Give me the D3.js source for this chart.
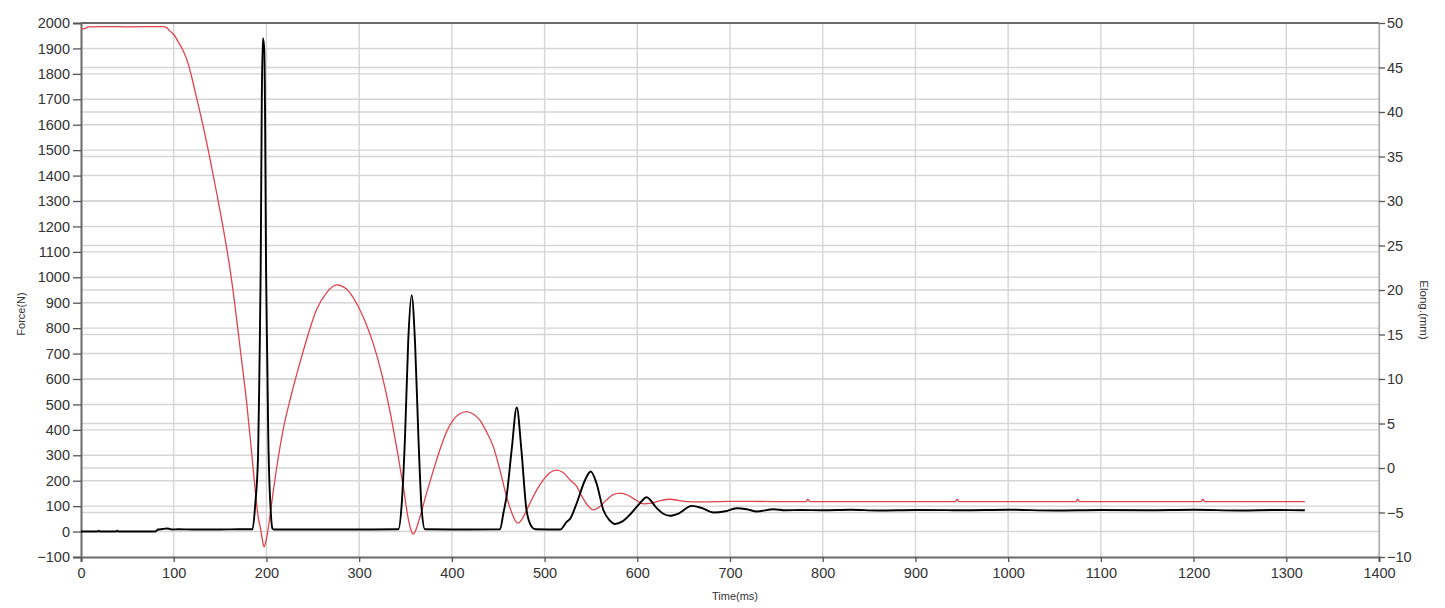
<!DOCTYPE html>
<html><head><meta charset="utf-8">
<script src="https://cdn.jsdelivr.net/npm/d3@7"></script>
<style>
html,body{margin:0;padding:0;background:#fff;}
svg text{font-family:"Liberation Sans",Arial,sans-serif;}
</style></head>
<body><svg id="c" width="1445" height="608"></svg>
<script>
// ---- data ----
const timeTicks = [0,100,200,300,400,500,600,700,800,900,1000,1100,1200,1300,1400];
const forceTicks = [-100,0,100,200,300,400,500,600,700,800,900,1000,1100,1200,1300,1400,1500,1600,1700,1800,1900,2000];
const elongTicks = [-10,-5,0,5,10,15,20,25,30,35,40,45,50];

// Force (N) vs time (ms), black curve, left axis
const forceTime = [0,18,19,20,38,39,40,60,80,83,88,92,95,98,105,120,150,170,185,188,191,192.5,193.8,195,196.2,197.6,198.5,199.6,201,202,204.6,206.5,208,250,300,342.3,346,349.5,353,356.6,360.3,363.9,367.5,371,400,452,455.6,459,464.5,470,475,480.5,485.9,490,516.7,524,527.5,534.7,543.7,549.8,556,563.4,570,576,584,592,603,610,621,628,635.4,645,658.7,670,682,695,707,718,729,747,760,776,800,830,860,900,950,1000,1050,1100,1150,1200,1250,1290,1320];
const forceVal  = [0,0,3,0,0,3,0,0,0,8,10,12,11,8,9,8,8,9,9,110,300,650,1030,1700,1940,1900,1660,1030,650,374,85,12,8,8,8,9,113,374,754,930,742,374,85,9,8,9,73,138,321,488,321,85,20,9,8,39,50,112,203,236,190,85,45,30,40,66,112,135,92,70,62,72,101,92,75,80,92,88,79,88,84,85,84,86,83,85,84,86,83,85,84,86,83,85,84,86];

// Elongation (mm) vs time (ms), red curve, right axis
const elongTime = [0,4,8,30,50,88,92,96,100,105,110,116,121,127,132,140,148,155,160,165,171.5,178.7,183,187.7,191,194,196,197.5,199,201,203,205.7,211,218,227,236,245,254,265,276,286,297,306,315,324,333,341,347.6,353,356,358.5,361,365,372.8,380,387,394,401.5,408,416,423,430,437,444.7,452,459,465,469,471.7,475,480,484.4,491,498.7,506,513,520,527.5,534.7,540,546,552.6,560,567,574,581.4,590,598,606.6,615,625,635.4,645,653,670,700,750,782,784,786,943,945,947,1073,1075,1077,1208,1210,1212,1320];
const elongVal  = [49.34,49.37,49.57,49.6,49.57,49.6,49.51,49.09,48.71,47.86,46.94,45.29,43.23,40.57,38.29,34.29,30.0,26.0,22.86,19.14,13.6,7.31,2.86,-2.29,-5.43,-7.0,-8.29,-8.86,-8.43,-7.43,-6.0,-3.91,0,4.29,8.29,11.77,15.0,17.77,19.71,20.57,20.14,18.54,16.57,14.06,10.71,6.51,2.0,-2.09,-5.71,-7.0,-7.43,-7.0,-5.71,-2.8,-0.29,2.03,4.0,5.4,6.06,6.34,6.06,5.4,4.14,2.4,-0.29,-3.2,-5.14,-6.0,-6.2,-5.86,-4.86,-3.94,-2.57,-1.34,-0.51,-0.23,-0.51,-1.34,-2.09,-3.14,-4.14,-4.71,-4.29,-3.57,-3.0,-2.83,-3.06,-3.57,-4.03,-3.94,-3.66,-3.51,-3.66,-3.77,-3.8,-3.74,-3.77,-3.77,-3.5,-3.77,-3.77,-3.5,-3.77,-3.77,-3.5,-3.77,-3.77,-3.5,-3.77,-3.77];

// ---- chart ----
const svg = d3.select("#c");
const L = 81, R = 1379, T = 23, B = 557;
const x = d3.scaleLinear().domain([0,1400]).range([L,R]);
const yF = d3.scaleLinear().domain([-100,2000]).range([B,T]);
const yE = d3.scaleLinear().domain([-10,50]).range([B,T]);

const grid = svg.append("g").attr("stroke","#d5d5d5").attr("stroke-width",1.4);
timeTicks.slice(1,-1).forEach(t=>grid.append("line").attr("x1",x(t)).attr("x2",x(t)).attr("y1",T).attr("y2",B));
forceTicks.slice(1,-1).forEach(v=>grid.append("line").attr("x1",L).attr("x2",R).attr("y1",yF(v)).attr("y2",yF(v)));
elongTicks.slice(1,-1).forEach(v=>grid.append("line").attr("x1",L).attr("x2",R).attr("y1",yE(v)).attr("y2",yE(v)));

// frame
svg.append("line").attr("x1",L).attr("x2",R).attr("y1",T).attr("y2",T).attr("stroke","#6a6a6a").attr("stroke-width",2);
svg.append("line").attr("x1",R).attr("x2",R).attr("y1",T).attr("y2",B).attr("stroke","#b0b0b0").attr("stroke-width",1.2);

const fontSize = "14.5px";
const axL = svg.append("g").attr("transform",`translate(${L},0)`)
  .call(d3.axisLeft(yF).tickValues(forceTicks).tickSize(8).tickPadding(3).tickFormat(d3.format("d")));
const axR = svg.append("g").attr("transform",`translate(${R},0)`)
  .call(d3.axisRight(yE).tickValues(elongTicks).tickSize(6).tickPadding(2).tickFormat(d3.format("d")));
const axB = svg.append("g").attr("transform",`translate(0,${B})`)
  .call(d3.axisBottom(x).tickValues(timeTicks).tickSize(5).tickPadding(6).tickFormat(d3.format("d")));

[axL,axB].forEach(a=>{
  a.select(".domain").attr("stroke","#6a6a6a").attr("stroke-width",2);
  a.selectAll(".tick line").attr("stroke","#555").attr("stroke-width",1.3);
});
axR.select(".domain").attr("stroke","#b0b0b0").attr("stroke-width",1.2);
axR.selectAll(".tick line").attr("stroke","#555").attr("stroke-width",1.3);
[axL,axR,axB].forEach(a=>a.selectAll("text").attr("font-size",fontSize).attr("fill","#333")
  .attr("font-family","'Liberation Sans',Arial,sans-serif"));

// lines
const lineE = d3.line().curve(d3.curveMonotoneX).x((d,i)=>x(elongTime[i])).y(d=>yE(d));
svg.append("path").datum(elongVal).attr("d",lineE).attr("fill","none")
  .attr("stroke","#e0434b").attr("stroke-width",1.3);
const lineF = d3.line().curve(d3.curveMonotoneX).x((d,i)=>x(forceTime[i])).y(d=>yF(d));
svg.append("path").datum(forceVal).attr("d",lineF).attr("fill","none")
  .attr("stroke","#000").attr("stroke-width",1.9).attr("stroke-linejoin","round");

// axis titles
svg.append("text").attr("x",735).attr("y",600).attr("text-anchor","middle")
  .attr("font-size","11px").attr("fill","#333").text("Time(ms)");
svg.append("text").attr("transform","translate(25,314) rotate(-90)").attr("text-anchor","middle")
  .attr("font-size","11px").attr("fill","#333").text("Force(N)");
svg.append("text").attr("transform","translate(1420,310) rotate(90)").attr("text-anchor","middle")
  .attr("font-size","11.5px").attr("fill","#333").text("Elong.(mm)");
</script></body></html>
